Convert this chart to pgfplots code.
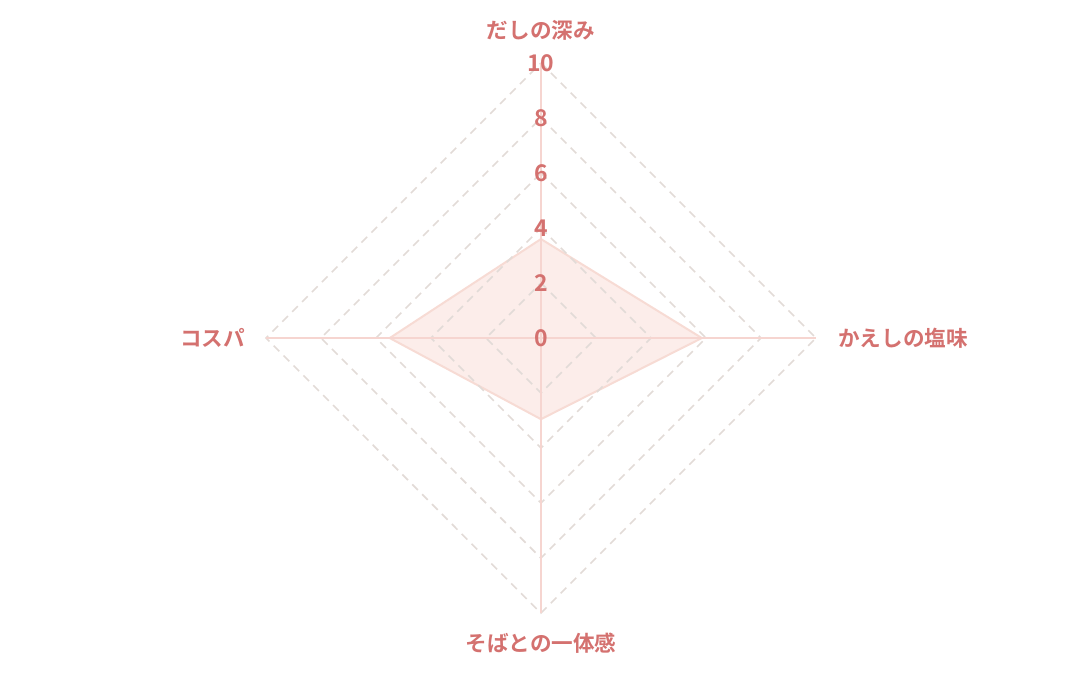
\documentclass[border=0pt]{standalone}
\usepackage{pgfplots}
\pgfplotsset{compat=1.18}
\usepackage{fontspec}
\setmainfont{Noto Sans CJK JP}[BoldFont={* Bold}]
\newfontfamily\jpb{Noto Sans CJK JP Bold}
\definecolor{lab}{HTML}{D4716F}
\definecolor{gridc}{HTML}{E2DBD7}
\definecolor{spoke}{HTML}{F6D5D0}
\definecolor{areaf}{HTML}{FCEDEA}
\definecolor{areae}{HTML}{F7DBD4}
\begin{document}
\begin{tikzpicture}
\begin{axis}[
  scale only axis, width=540pt, height=337.5pt,
  xmin=-19.67, xmax=19.6, ymin=-12.25, ymax=12.29,
  hide axis, clip=false,
]
\path (rel axis cs:0,0) rectangle (rel axis cs:1,1);
% data polygon: top, right, bottom, left
\addplot[fill=areaf, draw=areae, line width=1pt] coordinates {(0,3.6) (5.85,0) (0,-2.95) (-5.5,0) (0,3.6)};
% grid
\foreach \r in {2,4,6,8,10}{
  \edef\tmp{\noexpand\addplot[gridc, line width=0.8pt, dash pattern=on 4pt off 3pt] coordinates {(0,\r) (\r,0) (0,-\r) (-\r,0) (0,\r)};}
  \tmp
}
% spokes
\addplot[spoke, line width=0.7pt] coordinates {(0,0) (0,10)};
\addplot[spoke, line width=0.7pt] coordinates {(0,0) (10,0)};
\addplot[spoke, line width=0.7pt] coordinates {(0,0) (0,-10)};
\addplot[spoke, line width=0.7pt] coordinates {(0,0) (-10,0)};
% tick labels
\foreach \v in {0,2,4,6,8,10}{
  \edef\tmp{\noexpand\node[text=lab, inner sep=0pt, font=\noexpand\jpb\noexpand\fontsize{11.5pt}{13pt}\noexpand\selectfont] at (axis cs:0,\v) {\v};}
  \tmp
}
% axis labels
\node[text=lab, inner sep=0pt, font=\jpb\fontsize{10.8pt}{12pt}\selectfont] at (axis cs:0,11.2) {だしの深み};
\node[text=lab, inner sep=0pt, font=\jpb\fontsize{10.8pt}{12pt}\selectfont, anchor=west] at (axis cs:10.8,0) {かえしの塩味};
\node[text=lab, inner sep=0pt, font=\jpb\fontsize{10.8pt}{12pt}\selectfont] at (axis cs:0,-11.1) {そばとの一体感};
\node[text=lab, inner sep=0pt, font=\jpb\fontsize{10.8pt}{12pt}\selectfont, anchor=east] at (axis cs:-10.75,0) {コスパ};
\end{axis}
\end{tikzpicture}
\end{document}
